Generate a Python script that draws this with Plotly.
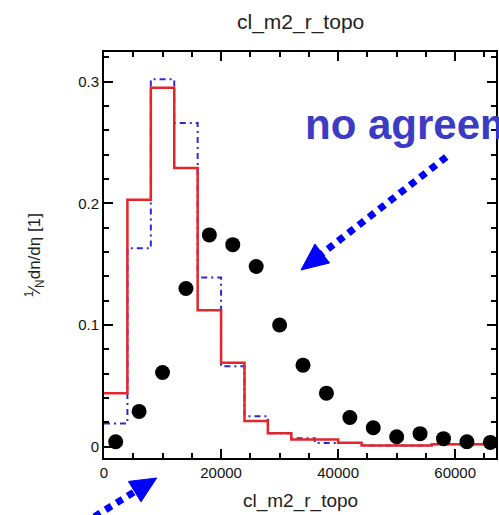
import math
import plotly.graph_objects as go

# ---- data ----
bin_edges = [0, 4000, 8000, 12000, 16000, 20000, 24000, 28000, 32000, 36000,
             40000, 44000, 48000, 52000, 56000, 60000, 64000, 68000]
mc_red = [0.044, 0.203, 0.295, 0.229, 0.112, 0.069, 0.021, 0.011, 0.006, 0.006,
          0.0033, 0.001, 0.001, 0.001, 0.002, 0.002, 0.002]
mc_blue = [0.019, 0.163, 0.302, 0.266, 0.139, 0.066, 0.025, 0.011, 0.007, 0.003,
           0.003, 0.001, 0.001, 0.001, 0.002, 0.002, 0.002]
data_x = [2000, 6000, 10000, 14000, 18000, 22000, 26000, 30000, 34000, 38000,
          42000, 46000, 50000, 54000, 58000, 62000, 66000]
data_y = [0.004, 0.029, 0.061, 0.130, 0.174, 0.166, 0.148, 0.100, 0.067, 0.044,
          0.024, 0.0156, 0.0082, 0.0107, 0.0066, 0.004, 0.0035]
x_tickvals = [0, 20000, 40000, 60000]
x_ticktext = ["0", "20000", "40000", "60000"]
y_tickvals = [0, 0.1, 0.2, 0.3]
y_ticktext = ["0", "0.1", "0.2", "0.3"]
title_text = "cl_m2_r_topo"
xlabel = "cl_m2_r_topo"
ylabel = "<sup>1</sup>\u2044<sub>N</sub>dn/d\u03b7 [1]"
note_text = "no agreement"

W, H = 499, 515
L, R, T, B = 104, 1, 52, 57
PW, PH = W - L - R, H - T - B


def px(x):
    return (x - L) / PW


def py(y):
    return (H - B - y) / PH


fig = go.Figure()
fig.add_trace(go.Scatter(x=bin_edges, y=mc_blue + [mc_blue[-1]], mode="lines",
                         line=dict(shape="hv", color="#2a2ad0", width=2,
                                   dash="6px,4px,2px,4px"),
                         showlegend=False, hoverinfo="skip"))
fig.add_trace(go.Scatter(x=bin_edges, y=mc_red + [mc_red[-1]], mode="lines",
                         line=dict(shape="hv", color="#e3262a", width=2.5),
                         showlegend=False, hoverinfo="skip"))
fig.add_trace(go.Scatter(x=data_x, y=data_y, mode="markers",
                         marker=dict(color="black", size=15),
                         showlegend=False))

axis_common = dict(showline=True, linewidth=2, linecolor="black", mirror="ticks",
                   ticks="inside", ticklen=9, tickwidth=1.5, tickcolor="black",
                   showgrid=False, zeroline=False,
                   tickfont=dict(family="Arial", size=15, color="#111"))
fig.update_xaxes(range=[0, 66970], tickvals=x_tickvals, ticktext=x_ticktext,
                 minor=dict(dtick=5000, tick0=0, ticks="inside", ticklen=5,
                            tickwidth=1.5, tickcolor="black", showgrid=False),
                 **axis_common)
fig.update_yaxes(range=[-0.0093, 0.3243], tickvals=y_tickvals, ticktext=y_ticktext,
                 minor=dict(dtick=0.02, tick0=0, ticks="inside", ticklen=5,
                            tickwidth=1.5, tickcolor="black", showgrid=False),
                 **axis_common)

annotations = [
    dict(text=title_text, x=px(302), y=py(22), xref="paper", yref="paper",
         showarrow=False, xanchor="center", yanchor="middle",
         font=dict(family="Arial", size=21, color="#222")),
    dict(text=xlabel, x=px(302), y=py(501), xref="paper", yref="paper",
         showarrow=False, xanchor="center", yanchor="middle",
         font=dict(family="Arial", size=19, color="#222")),
    dict(text=ylabel, x=px(34), y=py(255), xref="paper", yref="paper",
         showarrow=False, xanchor="center", yanchor="middle", textangle=-90,
         font=dict(family="Arial", size=17, color="#222")),
    dict(text="<b>" + note_text + "</b>", x=px(304), y=py(125), xref="paper",
         yref="paper", showarrow=False, xanchor="left", yanchor="middle",
         font=dict(family="Arial", size=42, color="#3b3bc6")),
]


def arrow(tail, tip, head_len, half_w):
    dx, dy = tip[0] - tail[0], tip[1] - tail[1]
    n = math.hypot(dx, dy)
    ux, uy = dx / n, dy / n
    bx, by = tip[0] - head_len * ux, tip[1] - head_len * uy
    pxp, pyp = -uy, ux
    c1 = (bx + half_w * pxp, by + half_w * pyp)
    c2 = (bx - half_w * pxp, by - half_w * pyp)
    line = dict(type="line", xref="paper", yref="paper",
                x0=px(tail[0]), y0=py(tail[1]), x1=px(bx + 2 * ux), y1=py(by + 2 * uy),
                line=dict(color="#0000ff", width=7, dash="7px,6px"))
    path = "M {} {} L {} {} L {} {} Z".format(px(tip[0]), py(tip[1]),
                                              px(c1[0]), py(c1[1]),
                                              px(c2[0]), py(c2[1]))
    head = dict(type="path", xref="paper", yref="paper", path=path,
                fillcolor="#0000ff", line=dict(color="#0000ff", width=1))
    return [line, head]


shapes = arrow((448, 157), (302, 270), 27, 12) + arrow((50, 544), (157, 478), 26, 12)

fig.update_layout(width=W, height=H, margin=dict(l=L, r=R, t=T, b=B),
                  paper_bgcolor="white", plot_bgcolor="white",
                  annotations=annotations, shapes=shapes)
fig.write_html("out.html")
